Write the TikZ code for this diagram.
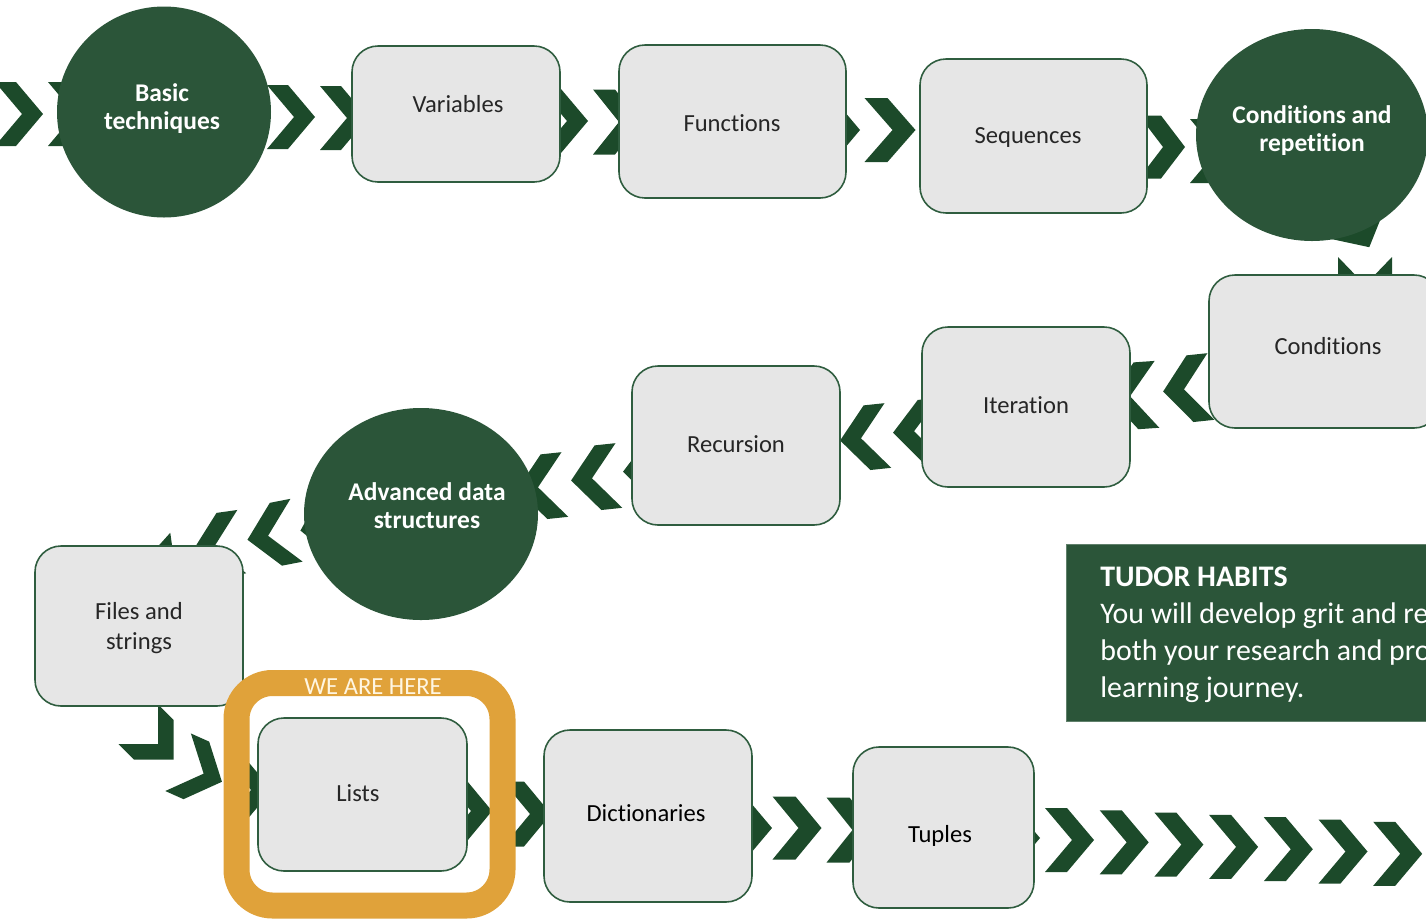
\documentclass[tikz,border=0pt]{standalone}
\usepackage{fontspec}
\setmainfont{Carlito}[Ligatures=NoCommon]
\usetikzlibrary{shapes.geometric}
\definecolor{dg}{HTML}{2B5539}
\definecolor{chevc}{HTML}{1C4A2A}
\definecolor{bxfill}{HTML}{E6E6E6}
\definecolor{bxline}{HTML}{2F5D3F}
\definecolor{orng}{HTML}{E0A23A}
\definecolor{txt}{HTML}{262626}
\definecolor{cream}{HTML}{FFF6E2}
% chevron: centre x, centre y, screen angle (clockwise), width, height, arm thickness
\newcommand\chev[6]{\fill[chevc,shift={(#1,#2)},rotate={-(#3)}] (-#4/2,-#5/2) -- (-#4/2+#6,-#5/2) -- (#4/2,0) -- (-#4/2+#6,#5/2) -- (-#4/2,#5/2) -- (#4/2-#6,0) -- cycle;}
\tikzset{
  box/.style={draw=bxline, fill=bxfill, line width=0.9pt, rounded corners=0.52cm, inner sep=0pt},
  circ/.style={ellipse, fill=dg, inner sep=0pt},
  lbl/.style={text=txt, font=\fontsize{14}{17.5}\selectfont, align=center, inner sep=0pt},
  dlbl/.style={text=black, font=\fontsize{14}{17.5}\selectfont, align=center, inner sep=0pt},
  clbl/.style={text=white, font=\fontsize{14.5}{16}\selectfont\bfseries, align=center, inner sep=0pt},
}
\begin{document}
\begin{tikzpicture}[x=0.02cm,y=-0.02cm]
\useasboundingbox (0,0) rectangle (1426,920);
\clip (0,0) rectangle (1426,920);
\fill[white] (0,0) rectangle (1426,920);

% ---- chevrons, row 1 (right)
\chev{19}{114}{0}{48}{64}{21}
\chev{72}{114}{0}{48}{64}{21}
\chev{291}{117}{0}{48}{64}{21}
\chev{344}{118}{0}{48}{64}{21}
\chev{564}{121}{0}{48}{64}{21}
\chev{617}{122}{0}{48}{65}{22}
\chev{836}{130}{0}{48}{64}{21}
\chev{890}{130}{0}{51}{64}{23}
\chev{1162}{147}{0}{46}{63}{22}
\chev{1214}{151}{0}{48}{64}{21}
% down
\chev{1358}{226}{62}{48}{64}{21}
\chev{1365}{281}{90}{48}{54}{20}
% ---- row 2 (left)
\chev{1187}{389}{174}{48}{67}{21}
\chev{1133}{396}{176}{48}{67}{21}
\chev{917}{431}{176}{48}{62}{21}
\chev{864}{438}{174}{48}{65}{21}
\chev{647}{470}{176}{48}{62}{21}
\chev{595}{478}{174}{48}{65}{21}
\chev{541}{487}{174}{48}{65}{21}
% ---- row 3
\chev{324}{526}{169}{48}{64}{21}
\chev{272}{535}{169}{50}{64}{21}
\chev{218}{545}{172}{48}{64}{21}
\chev{178}{572}{132}{48}{64}{21}
\chev{156}{742}{45}{50}{56}{22}
\chev{200}{772}{24}{48}{63}{20}
\chev{248}{790}{0}{48}{64}{21}
\chev{468}{811}{0}{48}{65}{21}
\chev{527}{814}{0}{48}{65}{21}
% ---- row 4
\chev{748}{828}{0}{48}{64}{21}
\chev{797}{828}{0}{49}{63}{23}
\chev{851}{830}{0}{49}{65}{23}
\chev{1016}{838}{0}{48}{64}{21}
\foreach \k in {0,...,6}{\chev{1069.5+54.7*\k}{840+2.3*\k}{0}{49}{64}{22}}

% ---- circles
\node[circ, minimum width=214*0.02cm, minimum height=211*0.02cm] (basic) at (164,112) {};
\node[circ, minimum width=232*0.02cm, minimum height=212*0.02cm] (condrep) at (1312,135) {};
\node[circ, minimum width=234*0.02cm, minimum height=212*0.02cm] (advanced) at (421,514) {};
\node[clbl] (basicL) at (162,109) {Basic\\techniques};
\node[clbl] (condrepL) at (1312,131) {Conditions and\\repetition};
\node[clbl] (advancedL) at (427,506) {Advanced data\\structures};

% ---- boxes
\node[box, minimum width=208*0.02cm, minimum height=136*0.02cm] (variables) at (456,114) {};
\node[box, minimum width=227*0.02cm, minimum height=153*0.02cm] (functions) at (732.5,121.5) {};
\node[box, minimum width=227*0.02cm, minimum height=154*0.02cm] (sequences) at (1033.5,136) {};
\node[box, minimum width=231*0.02cm, minimum height=153*0.02cm] (conditions) at (1324.5,351.5) {};
\node[box, minimum width=208*0.02cm, minimum height=160*0.02cm] (iteration) at (1026,407) {};
\node[box, minimum width=208*0.02cm, minimum height=159*0.02cm] (recursion) at (736,445.5) {};
\node[box, minimum width=208*0.02cm, minimum height=160*0.02cm] (files) at (139,626) {};
\node[box, minimum width=209*0.02cm, minimum height=153*0.02cm] (lists) at (362.5,794.5) {};
\node[box, minimum width=208*0.02cm, minimum height=172*0.02cm] (dictionaries) at (648,816) {};
\node[box, minimum width=181*0.02cm, minimum height=161*0.02cm] (tuples) at (943.5,827.5) {};

\node[lbl] (variablesL) at (458,104) {Variables};
\node[lbl] (functionsL) at (732,123) {Functions};
\node[lbl] (sequencesL) at (1028,137) {Sequences};
\node[lbl] (conditionsL) at (1328,346) {Conditions};
\node[lbl] (iterationL) at (1026,405) {Iteration};
\node[lbl] (recursionL) at (736,444) {Recursion};
\node[lbl] (filesL) at (139,628) {Files and\\strings};
\node[lbl] (listsL) at (358,793) {Lists};
\node[dlbl] (dictionariesL) at (646,813) {Dictionaries};
\node[dlbl] (tuplesL) at (940,836) {Tuples};

% ---- we are here frame
\node[draw=orng, line width=26*0.02cm, rounded corners=0.72cm, minimum width=266*0.02cm, minimum height=222.5*0.02cm, inner sep=0pt] (frame) at (369.5,794.25) {};
\node[text=cream, font=\fontsize{14}{16}\selectfont, inner sep=0pt] (here) at (373,687) {WE ARE HERE};

% ---- Tudor habits
\node[fill=dg, draw=dg!75!white, line width=0.6pt, minimum width=380*0.02cm, minimum height=177*0.02cm, anchor=north west, inner sep=0pt] (tudor) at (1066,544) {};
\node[anchor=north west, align=left, text=white, font=\fontsize{17}{21}\selectfont, inner sep=0pt] (tudorL) at (1100,567) {{\bfseries TUDOR HABITS}\\You will develop grit and re\\both your research and pro\\learning journey.};
\end{tikzpicture}
\end{document}
